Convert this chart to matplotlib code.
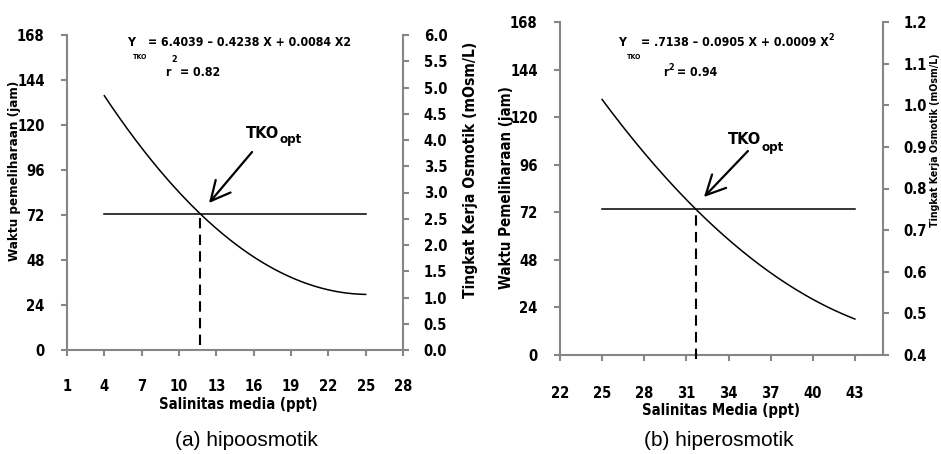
import numpy as np
import matplotlib
matplotlib.use('Agg')
from matplotlib import pyplot as plt
from matplotlib import font_manager as fm

W, H = 941, 454

# (a) hipoosmotik
sal_a = [4, 25]                       # salinity range of the fitted curve (ppt)
coef_a = [0.0084, -0.4238, 6.4039]    # Y_TKO = 6.4039 - 0.4238 X + 0.0084 X^2
tko_opt_a = 2.6                       # optimum TKO (mOsm/L)
sal_opt_a = 11.7                      # salinity at optimum TKO (ppt)
xticks_a = [1, 4, 7, 10, 13, 16, 19, 22, 25, 28]
rticks_a = [0.0, 0.5, 1.0, 1.5, 2.0, 2.5, 3.0, 3.5, 4.0, 4.5, 5.0, 5.5, 6.0]

# (b) hiperosmotik
sal_b = [25, 43]
coef_b = [0.0009, -0.0905, 2.7138]
tko_opt_b = 0.75
sal_opt_b = 31.7
xticks_b = [22, 25, 28, 31, 34, 37, 40, 43]
rticks_b = [0.4, 0.5, 0.6, 0.7, 0.8, 0.9, 1.0, 1.1, 1.2]

hours = [0, 24, 48, 72, 96, 120, 144, 168]

GREY = '#868686'


def pick_narrow_bold():
    # look for a narrow/condensed bold face, else plain bold Liberation Sans
    prefs = ['LiberationSansNarrow-Bold', 'DejaVuSansCondensed-Bold',
             'RobotoCondensed-Bold', 'OpenSans_Condensed-Bold', 'OpenSansCondensed-Bold',
             'NotoSans-CondensedBold']
    files = [f.fname for f in fm.fontManager.ttflist]
    for p in prefs:
        for f in files:
            if p.lower() in f.lower().replace(' ', ''):
                return fm.FontProperties(fname=f), True
    for f in fm.fontManager.ttflist:
        if ('narrow' in f.fname.lower() or 'condensed' in f.fname.lower()) and f.weight in (600, 700, 'bold'):
            return fm.FontProperties(fname=f.fname), True
    return fm.FontProperties(family='Liberation Sans', weight='bold'), False


BASE, NARROW = pick_narrow_bold()
SCALE = 1.0 if NARROW else 1.05


def F(size):
    p = BASE.copy()
    p.set_size(size * SCALE)
    return p


def px(x, y):
    # pixel position -> figure fraction
    return x / W, 1 - y / H


def ftext(fig, x, y, s, size, **kw):
    fx, fy = px(x, y)
    kw.setdefault('va', 'center')
    kw.setdefault('ha', 'left')
    if 'family' not in kw:
        kw['fontproperties'] = F(size)
    else:
        kw['fontsize'] = size
    return fig.text(fx, fy, s, **kw)


def after(fig, t, dx, y, s, size):
    # put a small text right after another one
    bb = t.get_window_extent(fig.canvas.get_renderer())
    return ftext(fig, bb.x1 + dx, y, s, size)


def make_panel(fig, box, xticks, xlim, rticks, rlim, sal, coef, tko, sal_opt, dash_bottom, xpad):
    l, t, r, b = box
    ax = fig.add_axes([l / W, 1 - b / H, (r - l) / W, (b - t) / H])
    ax2 = ax.twinx()

    ax.set_xlim(*xlim)
    ax.set_ylim(0, 168)
    ax.set_xticks(xticks)
    ax.set_yticks(hours)
    ax2.set_ylim(*rlim)
    ax2.set_yticks(rticks)
    ax2.set_yticklabels(['{:.1f}'.format(v) for v in rticks])

    for a in (ax, ax2):
        for sp in a.spines.values():
            sp.set_color(GREY)
            sp.set_linewidth(1.5)
        a.spines['top'].set_visible(False)
        a.tick_params(colors=GREY, width=1.5, length=4, labelcolor='black')
        for lbl in a.get_xticklabels() + a.get_yticklabels():
            lbl.set_fontproperties(F(10.6))
    ax.spines['right'].set_visible(False)
    ax2.spines['left'].set_visible(False)
    ax2.spines['bottom'].set_visible(False)
    ax.tick_params(axis='x', pad=xpad)
    ax.tick_params(axis='y', pad=12)
    ax2.tick_params(axis='y', pad=11)

    xs = np.linspace(sal[0], sal[1], 200)
    ax2.plot(xs, np.polyval(coef, xs), color='k', lw=1.1)
    ax2.plot(sal, [tko, tko], color='k', lw=1.1)
    ax2.plot([sal_opt, sal_opt], [dash_bottom, tko], color='k', lw=1.5,
             linestyle=(0, (5, 3)), clip_on=False)
    return ax, ax2


fig = plt.figure(figsize=(W / 100, H / 100), dpi=100)
arrow = dict(arrowstyle='->,head_length=0.7,head_width=0.35',
             color='k', lw=1.6, mutation_scale=20, shrinkA=0, shrinkB=0)

# left panel
axa, axa2 = make_panel(fig, (67, 35, 403, 350), xticks_a, (1, 28), rticks_a, (0, 6),
                       sal_a, coef_a, tko_opt_a, sal_opt_a, 0.1, 17)
axa.annotate('', xy=(12.41, 78.4), xytext=(15.87, 105.6), arrowprops=arrow)

# right panel
axb, axb2 = make_panel(fig, (560, 22, 883, 355), xticks_b, (22, 45), rticks_b, (0.4, 1.2),
                       sal_b, coef_b, tko_opt_b, sal_opt_b, 0.39, 18)
axb.annotate('', xy=(32.25, 79.7), xytext=(35.38, 102.9), arrowprops=arrow)

# TKO_opt labels
t = ftext(fig, 246, 133, 'TKO', 11.8)
after(fig, t, 0, 139, 'opt', 9.5)
t = ftext(fig, 728, 140, 'TKO', 11.8)
after(fig, t, 0, 148, 'opt', 9.5)

# regression equations
ftext(fig, 127, 43, 'Y', 8.8)
ftext(fig, 133, 57, 'TKO', 5)
ftext(fig, 148, 43, '= 6.4039 \u2013 0.4238 X + 0.0084 X2', 8.8)
ftext(fig, 171, 59, '2', 6.5)
ftext(fig, 165, 73, 'r', 8.8)
ftext(fig, 180, 73, '= 0.82', 8.8)

ftext(fig, 618, 43, 'Y', 8.8)
ftext(fig, 627, 57, 'TKO', 5)
t = ftext(fig, 641, 43, '= .7138 \u2013 0.0905 X + 0.0009 X', 8.8)
after(fig, t, 0, 38, '2', 6.5)
t = ftext(fig, 663, 73, 'r', 8.8)
after(fig, t, 0, 67, '2', 6.5)
ftext(fig, 677, 73, '= 0.94', 8.8)

# axis titles
ftext(fig, 238, 405, 'Salinitas media (ppt)', 10.7, ha='center')
ftext(fig, 721, 410, 'Salinitas Media (ppt)', 10.7, ha='center')
ftext(fig, 15, 171, 'Waktu pemeliharaan (jam)', 9.6, ha='center', rotation=90)
ftext(fig, 470, 170, 'Tingkat Kerja Osmotik (mOsm/L)', 11.2, ha='center', rotation=90)
ftext(fig, 507, 188, 'Waktu Pemeliharaan (jam)', 10.8, ha='center', rotation=90)
ftext(fig, 935, 140, 'Tingkat Kerja Osmotik (mOsm/L)', 7.6, ha='center', rotation=90)

# captions
ftext(fig, 246, 440, '(a) hipoosmotik', 15, ha='center', family='Liberation Sans',
      fontweight='normal')
ftext(fig, 719, 440, '(b) hiperosmotik', 15, ha='center', family='Liberation Sans',
      fontweight='normal')

fig.savefig('out.png', dpi=100)
